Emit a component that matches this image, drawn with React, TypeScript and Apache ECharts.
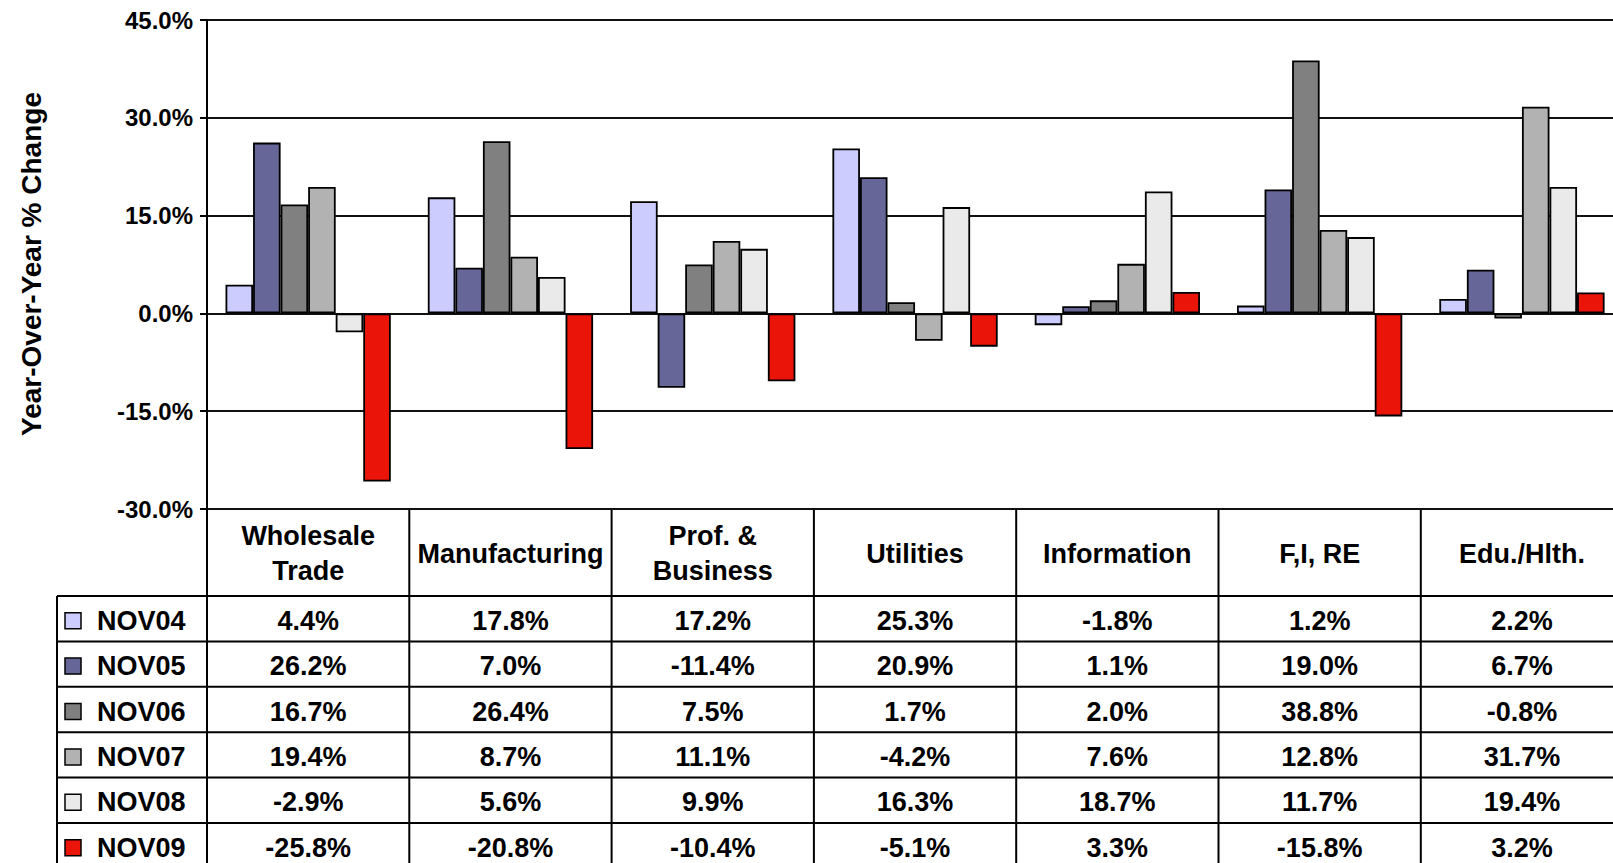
import React, { useEffect, useRef } from 'react';
import * as echarts from 'echarts';

const categories = ['Wholesale\nTrade', 'Manufacturing', 'Prof. &\nBusiness', 'Utilities', 'Information', 'F,I, RE', 'Edu./Hlth.'];
const seriesNames = ['NOV04', 'NOV05', 'NOV06', 'NOV07', 'NOV08', 'NOV09'];
const nov04 = [4.4, 17.8, 17.2, 25.3, -1.8, 1.2, 2.2];
const nov05 = [26.2, 7.0, -11.4, 20.9, 1.1, 19.0, 6.7];
const nov06 = [16.7, 26.4, 7.5, 1.7, 2.0, 38.8, -0.8];
const nov07 = [19.4, 8.7, 11.1, -4.2, 7.6, 12.8, 31.7];
const nov08 = [-2.9, 5.6, 9.9, 16.3, 18.7, 11.7, 19.4];
const nov09 = [-25.8, -20.8, -10.4, -5.1, 3.3, -15.8, 3.2];
const seriesValues = [nov04, nov05, nov06, nov07, nov08, nov09];
const seriesColors = ['#CCCCFF', '#666699', '#808080', '#B2B2B2', '#EAEAEA', '#EA1508'];
const yMin = -30;
const yMax = 45;
const yInterval = 15;
const yAxisTitle = 'Year-Over-Year % Change';

const FONT = '"Liberation Sans", Arial, Helvetica, sans-serif';

export default function App() {
  const ref = useRef<HTMLDivElement>(null);

  useEffect(() => {
    if (!ref.current) return;
    const chart = echarts.init(ref.current, null, { renderer: 'svg' });

    const gridLeft = 207;
    const gridTop = 20;
    const gridHeight = 489;
    const colW = 202.3;
    const gridWidth = colW * categories.length;
    const tableTop = gridTop + gridHeight;
    const headerBottom = 596;
    const rowH = 45.4;
    const legendLeft = 57;
    const tableBottom = headerBottom + rowH * seriesNames.length;
    const lineStyle = { stroke: '#000', lineWidth: 2 };

    const graphics: any[] = [];
    graphics.push({
      type: 'text',
      x: 31,
      y: 264,
      rotation: Math.PI / 2,
      style: {
        text: yAxisTitle,
        align: 'center',
        verticalAlign: 'middle',
        fontSize: 28,
        fontWeight: 'bold',
        fontFamily: FONT,
        fill: '#000',
      },
    });
    for (let i = 0; i <= categories.length; i++) {
      const x = gridLeft + i * colW;
      graphics.push({
        type: 'line',
        shape: { x1: x, y1: tableTop, x2: x, y2: tableBottom + 5 },
        style: lineStyle,
      });
    }
    graphics.push({
      type: 'line',
      shape: { x1: legendLeft, y1: headerBottom, x2: legendLeft, y2: tableBottom + 5 },
      style: lineStyle,
    });
    for (let r = 0; r <= seriesNames.length; r++) {
      const y = headerBottom + r * rowH;
      graphics.push({
        type: 'line',
        shape: { x1: legendLeft, y1: y, x2: gridLeft + gridWidth, y2: y },
        style: lineStyle,
      });
    }
    categories.forEach((c, i) => {
      graphics.push({
        type: 'text',
        x: gridLeft + (i + 0.5) * colW,
        y: (tableTop + headerBottom) / 2 + 1,
        style: {
          text: c,
          align: 'center',
          verticalAlign: 'middle',
          fontSize: 27,
          fontWeight: 'bold',
          fontFamily: FONT,
          lineHeight: 35,
          fill: '#000',
        },
      });
    });
    seriesNames.forEach((name, r) => {
      const cy = headerBottom + (r + 0.5) * rowH + 2;
      graphics.push({
        type: 'rect',
        shape: { x: 65, y: cy - 8, width: 16, height: 16 },
        style: { fill: seriesColors[r], stroke: '#000', lineWidth: 1.5 },
      });
      graphics.push({
        type: 'text',
        x: 97,
        y: cy,
        style: {
          text: name,
          align: 'left',
          verticalAlign: 'middle',
          fontSize: 27,
          fontWeight: 'bold',
          fontFamily: FONT,
          fill: '#000',
        },
      });
      seriesValues[r].forEach((v, i) => {
        graphics.push({
          type: 'text',
          x: gridLeft + (i + 0.5) * colW,
          y: cy,
          style: {
            text: v.toFixed(1) + '%',
            align: 'center',
            verticalAlign: 'middle',
            fontSize: 27,
            fontWeight: 'bold',
            fontFamily: FONT,
            fill: '#000',
          },
        });
      });
    });

    const option: any = {
      animation: false,
      backgroundColor: '#fff',
      textStyle: { fontFamily: FONT },
      grid: { left: gridLeft, top: gridTop, width: gridWidth, height: gridHeight, containLabel: false },
      xAxis: {
        type: 'category',
        data: categories,
        axisLine: { show: false },
        axisTick: { show: false },
        axisLabel: { show: false },
        splitLine: { show: false },
      },
      yAxis: {
        type: 'value',
        min: yMin,
        max: yMax,
        interval: yInterval,
        axisLine: { show: true, lineStyle: { color: '#000', width: 2 } },
        axisTick: { show: true, length: 7, lineStyle: { color: '#000', width: 2 } },
        axisLabel: {
          formatter: (v: number) => v.toFixed(1) + '%',
          fontSize: 24,
          fontWeight: 'bold',
          color: '#000',
          fontFamily: FONT,
          margin: 14,
        },
        splitLine: { show: true, lineStyle: { color: '#111', width: 2 } },
      },
      series: seriesNames.map((name, r) => ({
        name,
        type: 'bar',
        data: seriesValues[r],
        barGap: '0%',
        barCategoryGap: '18.3%',
        itemStyle: { color: seriesColors[r], borderColor: '#000', borderWidth: 1.8 },
      })),
      graphic: graphics,
    };

    chart.setOption(option);
    return () => chart.dispose();
  }, []);

  return (
    <div
      ref={ref}
      style={{ position: 'fixed', left: 0, top: 0, width: 1640, height: 863, background: '#fff' }}
    />
  );
}
